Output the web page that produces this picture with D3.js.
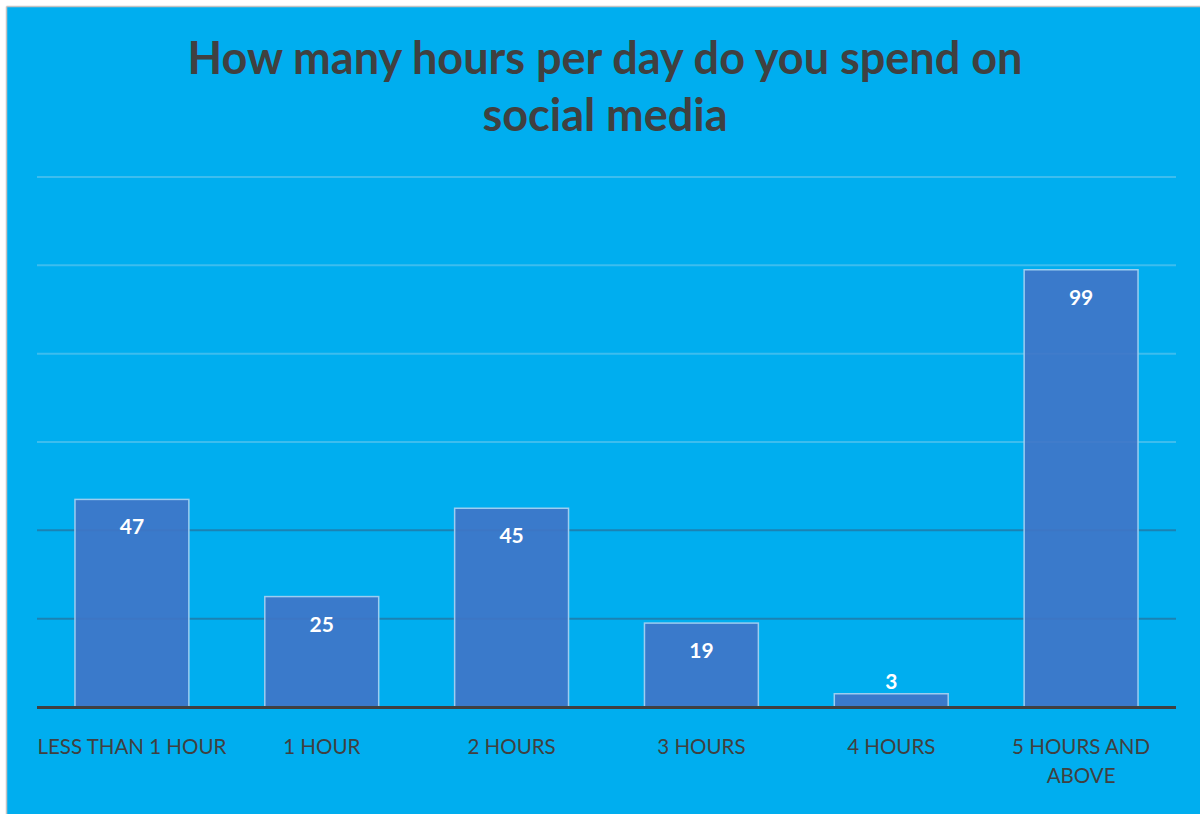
<!DOCTYPE html>
<html>
<head>
<meta charset="utf-8">
<script src="https://cdn.jsdelivr.net/npm/d3@7"></script>
<style>
  html, body { margin: 0; padding: 0; background: #ffffff; }
  svg { display: block; }
</style>
</head>
<body>
<svg id="chart" width="1200" height="814"></svg>
<script>
// Survey answers: daily hours on social media
const categories = ["LESS THAN 1 HOUR", "1 HOUR", "2 HOURS", "3 HOURS", "4 HOURS", "5 HOURS AND ABOVE"];
const responses = [47, 25, 45, 19, 3, 99];
const gridValues = [20, 40, 60, 80, 100, 120];
const titleLines = ["How many hours per day do you spend on", "social media"];

const W = 1200, H = 814;
const margin = { left: 37, right: 24, top: 177, bottom: 107 };
const svg = d3.select("#chart");

// chart panel with a thin grey frame along top and left
svg.append("rect").attr("x", 7).attr("y", 7).attr("width", W - 7).attr("height", H - 7)
  .attr("fill", "#00aeef");
svg.append("line").attr("x1", 6.5).attr("x2", W).attr("y1", 6.5).attr("y2", 6.5)
  .attr("stroke", "#c3c3c3").attr("stroke-width", 1.5);
svg.append("line").attr("x1", 6.5).attr("x2", 6.5).attr("y1", 6.5).attr("y2", H)
  .attr("stroke", "#c3c3c3").attr("stroke-width", 1.5);

const x = d3.scaleBand().domain(categories)
  .range([margin.left, W - margin.right]).paddingInner(0.4).paddingOuter(0.2);
const y = d3.scaleLinear().domain([0, 120]).range([H - margin.bottom, margin.top]);

// horizontal gridlines
svg.append("g").selectAll("line").data(gridValues).join("line")
  .attr("x1", margin.left).attr("x2", W - margin.right)
  .attr("y1", d => y(d)).attr("y2", d => y(d))
  .attr("stroke", d => d <= 40 ? "#1b82b3" : "#3dbdee")
  .attr("stroke-width", 2);

// bars
svg.append("g").selectAll("rect").data(responses).join("rect")
  .attr("x", (d, i) => x(categories[i]))
  .attr("y", d => y(d))
  .attr("width", x.bandwidth())
  .attr("height", d => y(0) - y(d))
  .attr("fill", "#4074c7").attr("fill-opacity", 0.9)
  .attr("stroke", "#9ccdf0").attr("stroke-width", 1.5);

// category axis line
svg.append("line").attr("x1", margin.left).attr("x2", W - margin.right)
  .attr("y1", y(0) + 0.5).attr("y2", y(0) + 0.5)
  .attr("stroke", "#404040").attr("stroke-width", 3);

// value labels
svg.append("g").selectAll("text").data(responses).join("text")
  .attr("x", (d, i) => x(categories[i]) + x.bandwidth() / 2)
  .attr("y", d => (y(0) - y(d)) > 40 ? y(d) + 35 : y(d) - 5)
  .attr("text-anchor", "middle")
  .attr("font-family", "Lato, 'Open Sans', sans-serif")
  .attr("font-weight", "bold").attr("font-size", 21)
  .attr("fill", "#ffffff")
  .text(d => d);

// category labels, wrapped when wider than one category slot
const labelG = svg.append("g");
categories.forEach(c => {
  const cx = x(c) + x.bandwidth() / 2;
  const t = labelG.append("text")
    .attr("x", cx).attr("y", 754)
    .attr("text-anchor", "middle")
    .attr("font-family", "Lato, 'Open Sans', sans-serif")
    .attr("font-size", 20.5).attr("fill", "#404040");
  const words = c.split(" ");
  const maxW = x.step() + 4;
  let line = [];
  let tspan = t.append("tspan").attr("x", cx).attr("dy", 0);
  words.forEach(w => {
    line.push(w);
    tspan.text(line.join(" "));
    if (tspan.node().getComputedTextLength() > maxW && line.length > 1) {
      line.pop();
      tspan.text(line.join(" "));
      line = [w];
      tspan = t.append("tspan").attr("x", cx).attr("dy", 29).text(w);
    }
  });
});

// title
const title = svg.append("text")
  .attr("text-anchor", "middle")
  .attr("font-family", "Lato, 'Open Sans', sans-serif")
  .attr("font-weight", "bold").attr("font-size", 45)
  .attr("fill", "#404040");
titleLines.forEach((l, i) => {
  title.append("tspan").attr("x", 605).attr("y", 74 + i * 57).text(l);
});
</script>
</body>
</html>
